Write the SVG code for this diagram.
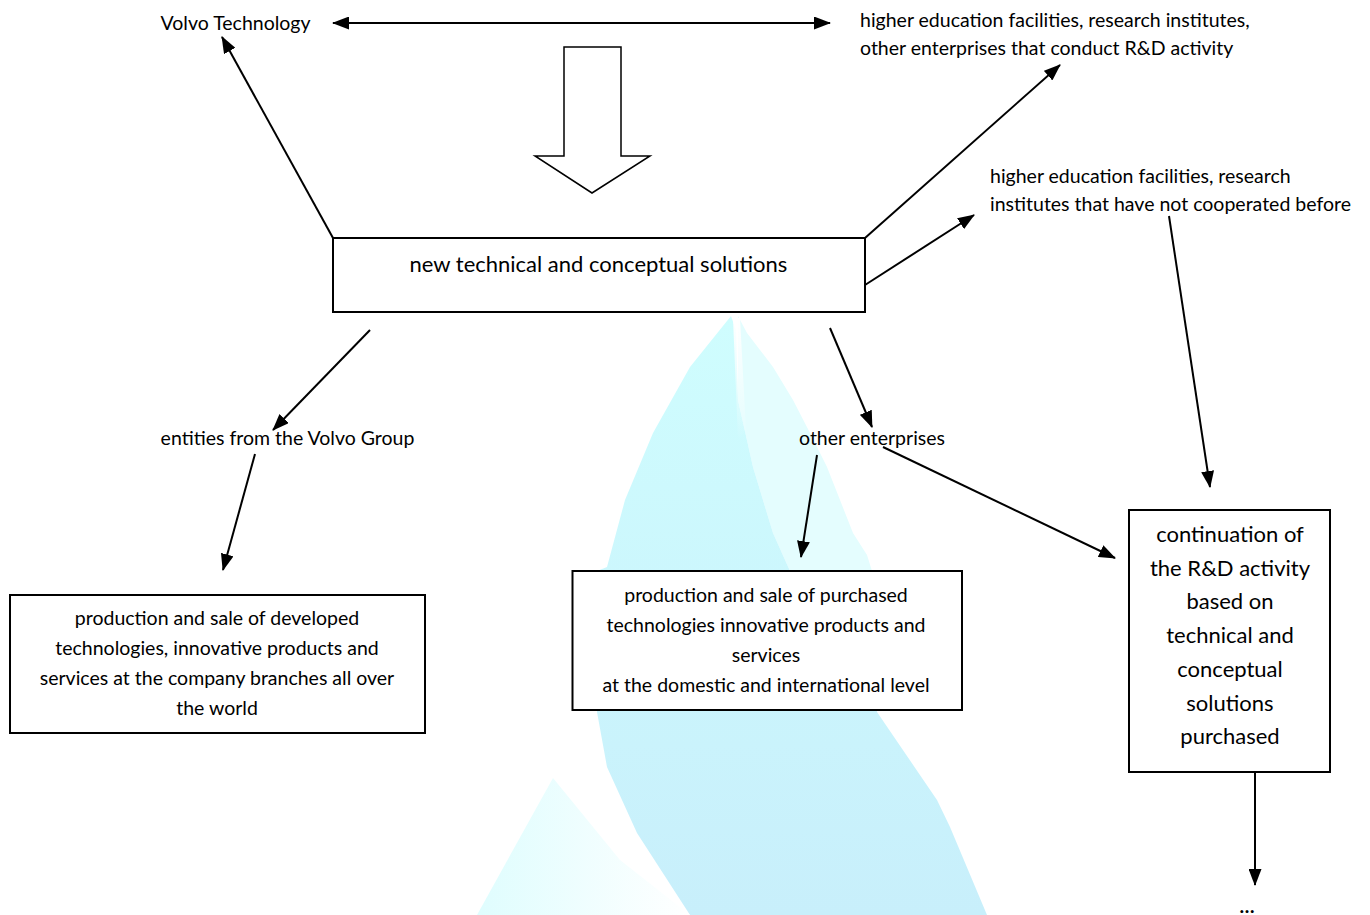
<svg xmlns="http://www.w3.org/2000/svg" width="1370" height="915" viewBox="0 0 1370 915">
<defs>
<style>
text{font-family:Lato,"Liberation Sans",sans-serif;fill:#000;}
.t{font-size:19.5px;}
.tb{font-size:22px;}
.c{text-anchor:middle;}
.box{fill:#fff;stroke:#000;stroke-width:2;}
.ln{stroke:#000;stroke-width:2;fill:none;marker-end:url(#ah);}
</style>
<marker id="ah" markerUnits="userSpaceOnUse" markerWidth="17" markerHeight="13" refX="16" refY="6.5" orient="auto">
<path d="M0,0 L17,6.5 L0,13 Z" fill="#000"/>
</marker>
<marker id="ahs" markerUnits="userSpaceOnUse" markerWidth="17" markerHeight="13" refX="1" refY="6.5" orient="auto">
<path d="M17,0 L0,6.5 L17,13 Z" fill="#000"/>
</marker>
<linearGradient id="gDark" x1="0" y1="0" x2="0" y2="1">
<stop offset="0" stop-color="#cffdfe"/>
<stop offset="1" stop-color="#c8effb"/>
</linearGradient>
<linearGradient id="gLobe" x1="0" y1="0" x2="1" y2="0">
<stop offset="0" stop-color="#dffdfe"/>
<stop offset="1" stop-color="#ffffff"/>
</linearGradient>
<linearGradient id="gBand" x1="0" y1="0" x2="0" y2="1">
<stop offset="0" stop-color="#ffffff" stop-opacity="1"/>
<stop offset="1" stop-color="#ffffff" stop-opacity="0"/>
</linearGradient>
</defs>

<g id="watermark">
<polygon points="738,316 747,333 773,367 793,400 810,433 827,467 840,500 853,533 867,555 872,571 876,712 790,571 773,533 753,467 738,400" fill="#e4fdfe"/>
<polygon points="731,316 690,367 653,433 625,500 607,567 597,571 597,712 607,767 637,833 690,915 987,915 950,827 937,800 877,712 872,600 790,571 773,533 753,467 738,400 736,330" fill="url(#gDark)"/>
<polygon points="733,318 740,318 746,430 738,440" fill="url(#gBand)"/>
<polygon points="553,778 477,915 690,915 620,860" fill="url(#gLobe)"/>
</g>

<g id="connectors">
<line x1="333" y1="23" x2="830" y2="23" class="ln" marker-start="url(#ahs)"/>
<line x1="333" y1="238" x2="222" y2="37" class="ln"/>
<line x1="865" y1="238" x2="1060" y2="65" class="ln"/>
<line x1="865" y1="285" x2="974" y2="215" class="ln"/>
<line x1="1169" y1="216" x2="1210" y2="487" class="ln"/>
<line x1="370" y1="330" x2="273" y2="430" class="ln"/>
<line x1="255" y1="454" x2="223" y2="570" class="ln"/>
<line x1="830" y1="328" x2="872" y2="427" class="ln"/>
<line x1="817" y1="455" x2="801" y2="557" class="ln"/>
<line x1="883" y1="447" x2="1115" y2="558" class="ln"/>
<line x1="1255" y1="772" x2="1255" y2="885" class="ln"/>
</g>

<g id="block-arrow">
<polygon points="564,47 621,47 621,156 650,156 592,193 535,156 564,156" fill="#fff" stroke="#000" stroke-width="1.5"/>
</g>

<g id="volvo-technology">
<text class="t c" x="235.5" y="30">Volvo Technology</text>
</g>

<g id="rd-partners">
<text class="t" x="860" y="27">higher education facilities, research institutes,</text>
<text class="t" x="860" y="55">other enterprises that conduct R&amp;D activity</text>
</g>

<g id="new-partners">
<text class="t" x="990" y="183">higher education facilities, research</text>
<text class="t" x="990" y="211">institutes that have not cooperated before</text>
</g>

<g id="solutions">
<rect class="box" x="333" y="238" width="532" height="74"/>
<text class="tb c" x="598.5" y="272">new technical and conceptual solutions</text>
</g>

<g id="volvo-group">
<text class="t c" x="287.5" y="445">entities from the Volvo Group</text>
</g>

<g id="other-enterprises">
<text class="t c" x="872" y="445">other enterprises</text>
</g>

<g id="developed">
<rect class="box" x="10" y="595" width="415" height="138"/>
<text class="t c" x="217" y="625">production and sale of developed</text>
<text class="t c" x="217" y="655">technologies, innovative products and</text>
<text class="t c" x="217" y="685">services at the company branches all over</text>
<text class="t c" x="217" y="715">the world</text>
</g>

<g id="purchased">
<rect class="box" x="572.5" y="571" width="389.5" height="139"/>
<text class="t c" x="766" y="602">production and sale of purchased</text>
<text class="t c" x="766" y="632">technologies innovative products and</text>
<text class="t c" x="766" y="662">services</text>
<text class="t c" x="766" y="692">at the domestic and international level</text>
</g>

<g id="continuation">
<rect class="box" x="1129" y="510" width="201" height="262"/>
<text class="tb c" x="1230" y="542">continuation of</text>
<text class="tb c" x="1230" y="575.7">the R&amp;D activity</text>
<text class="tb c" x="1230" y="609.4">based on</text>
<text class="tb c" x="1230" y="643">technical and</text>
<text class="tb c" x="1230" y="676.8">conceptual</text>
<text class="tb c" x="1230" y="710.5">solutions</text>
<text class="tb c" x="1230" y="744.2">purchased</text>
</g>

<g id="ellipsis">
<text class="t c" x="1247" y="913" font-weight="bold">…</text>
</g>
</svg>
